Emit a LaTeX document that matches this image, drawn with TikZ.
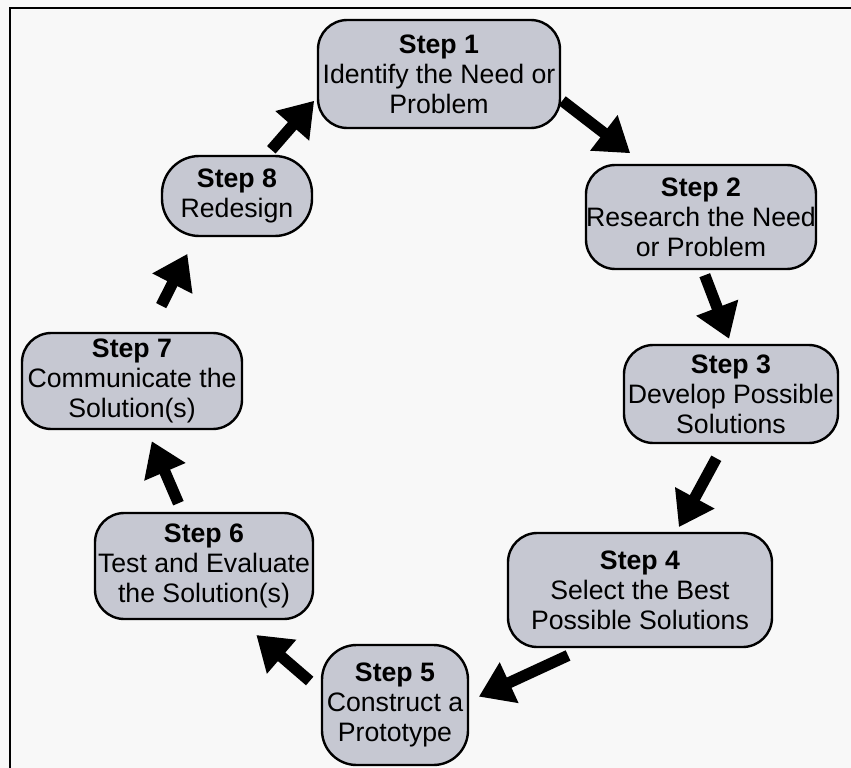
\documentclass[tikz,border=0pt]{standalone}
\usepackage{fontspec}
\setmainfont{Liberation Sans}
\usetikzlibrary{arrows.meta}

\definecolor{boxgray}{RGB}{198,200,210}
\definecolor{paper}{RGB}{248,248,248}

\tikzset{
  stepbox/.style={draw=black, line width=1.8pt, fill=boxgray, rounded corners=22pt,
    inner sep=0pt, align=center, font=\fontsize{20}{22.5}\selectfont},
  flow/.style={line width=8.5pt, -{Triangle[length=25pt,width=32pt]}},
}

\begin{document}
\begin{tikzpicture}[x=0.75pt,y=0.75pt,yscale=-1,xscale=1]
\useasboundingbox (0,0) rectangle (851,768);
\fill [paper] (0,0) rectangle (851,768);

%Shape: Frame
\draw [line width=2.2pt] (851,8) -- (10,8) -- (10,768);

%Shape: Rounded Rectangle [step1]
\node [stepbox, minimum width=181.5pt, minimum height=81pt] (s1) at (439,74)
  {\textbf{Step 1}\\Identify the Need or\\Problem};
%Shape: Rounded Rectangle [step2]
\node [stepbox, minimum width=172.5pt, minimum height=78pt] (s2) at (701,217)
  {\textbf{Step 2}\\Research the Need\\or Problem};
%Shape: Rounded Rectangle [step3]
\node [stepbox, minimum width=160.5pt, minimum height=73.5pt] (s3) at (731,394)
  {\textbf{Step 3}\\Develop Possible\\Solutions};
%Shape: Rounded Rectangle [step4]
\node [stepbox, minimum width=198pt, minimum height=85.5pt] (s4) at (640,590)
  {\textbf{Step 4}\\Select the Best\\Possible Solutions};
%Shape: Rounded Rectangle [step5]
\node [stepbox, minimum width=109.5pt, minimum height=90pt, rounded corners=26pt] (s5) at (395,705)
  {\textbf{Step 5}\\Construct a\\Prototype};
%Shape: Rounded Rectangle [step6]
\node [stepbox, minimum width=163.5pt, minimum height=79.5pt] (s6) at (204,566)
  {\textbf{Step 6}\\Test and Evaluate\\the Solution(s)};
%Shape: Rounded Rectangle [step7]
\node [stepbox, minimum width=165pt, minimum height=72pt] (s7) at (132,381)
  {\textbf{Step 7}\\Communicate the\\Solution(s)};
%Shape: Rounded Rectangle [step8]
\node [stepbox, minimum width=112.5pt, minimum height=60pt, rounded corners=28pt] (s8) at (237,196)
  {\textbf{Step 8}\\Redesign};

%Arrows
\draw [flow, shorten <=1pt, shorten >=13pt] (s1.-12) -- (s2.137);
\draw [flow, shorten <=4pt, shorten >=4pt] (s2.-88) -- (s3.90);
\draw [flow, shorten <=12pt, shorten >=4pt] (s3.-98) -- (s4.58);
\draw [flow, shorten <=13pt, shorten >=8pt] (s4.-134) -- (s5.3);
\draw [flow, shorten <=11pt, shorten >=17pt] (s5.169) -- (s6.-57);
\draw [flow, shorten <=7pt, shorten >=9pt] (s6.112) -- (s7.-73);
\draw [flow, shorten <=22pt, shorten >=14pt] (s7.72) -- (s8.-135);
\draw [flow, shorten <=5pt, shorten >=3pt] (s8.54) -- (s1.191);

\end{tikzpicture}
\end{document}
